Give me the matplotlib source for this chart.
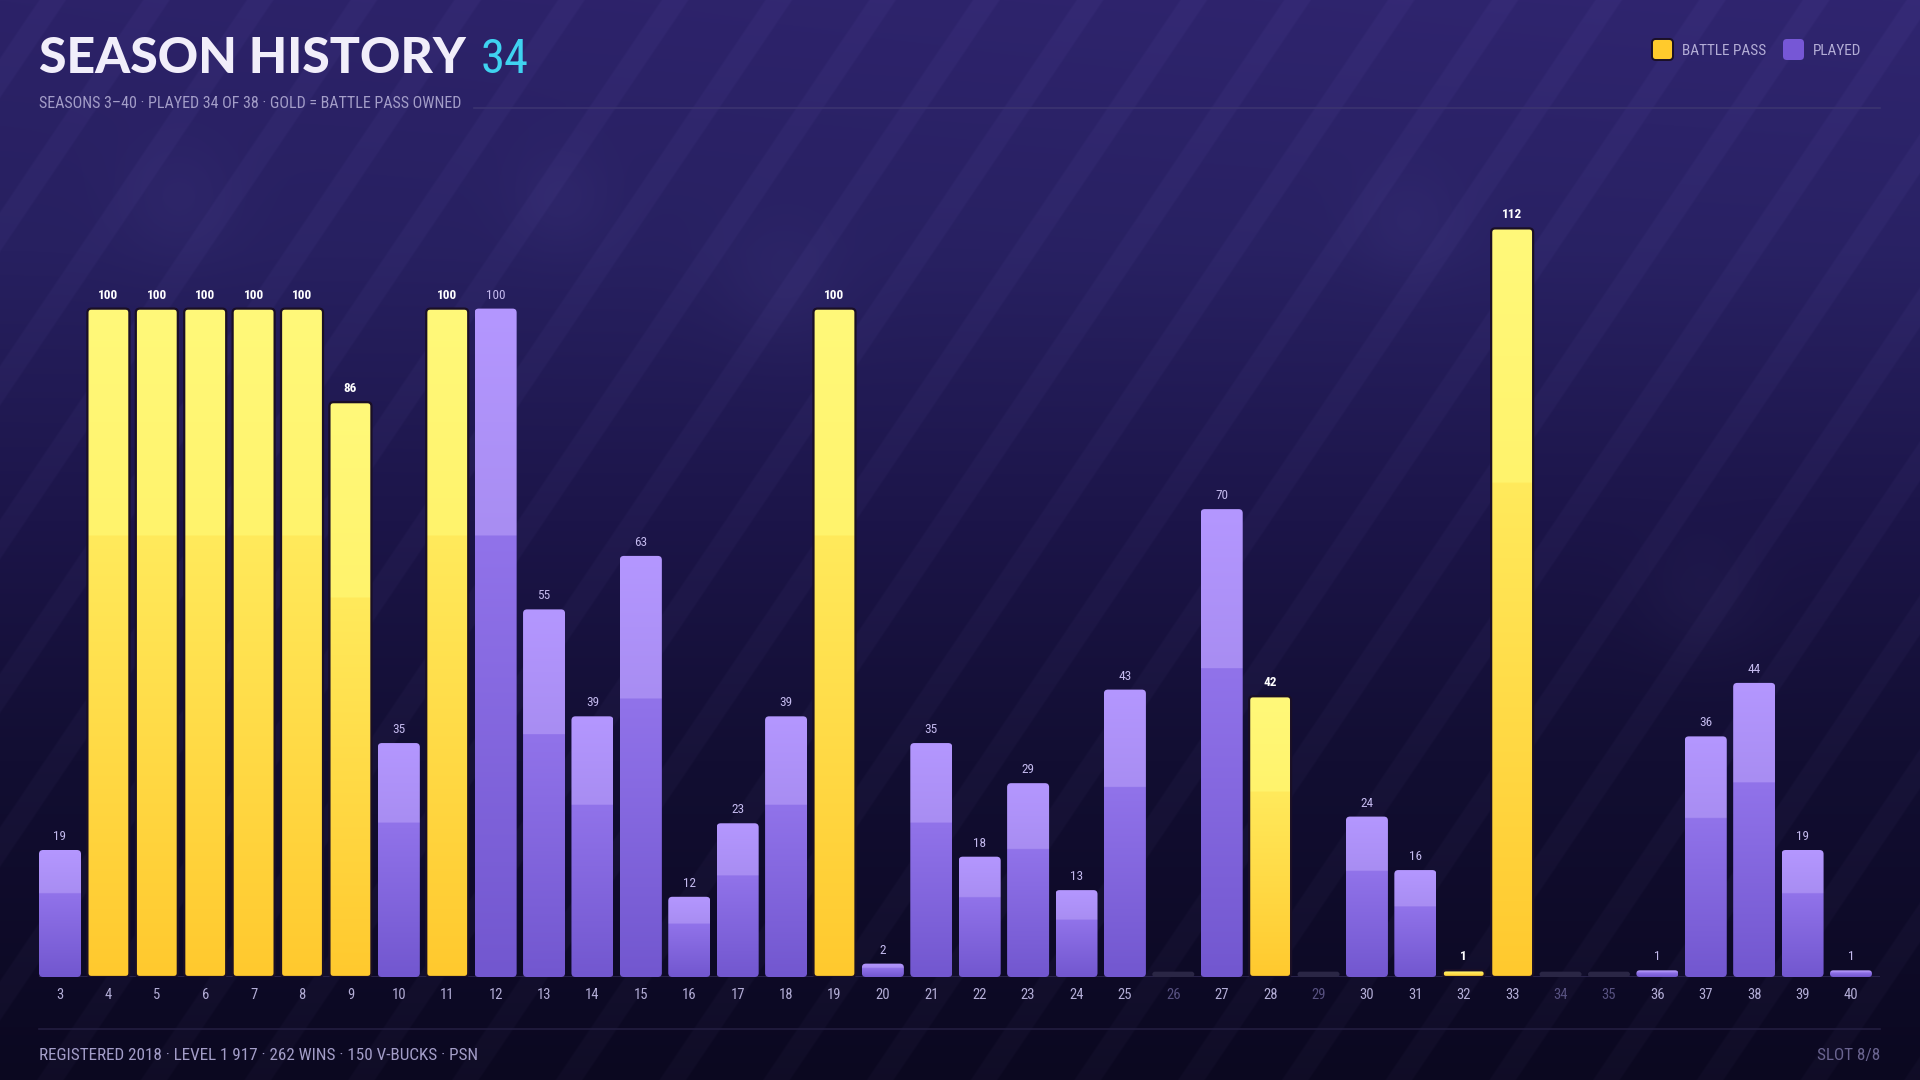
import numpy as np
import matplotlib
matplotlib.use("Agg")
import matplotlib.pyplot as plt
from matplotlib.patches import FancyBboxPatch
from matplotlib.colors import to_rgb
from matplotlib.lines import Line2D

# ---------------- data ----------------
seasons = list(range(3, 41))
levels = [19, 100, 100, 100, 100, 100, 86, 35, 100, 100, 55, 39, 63, 12, 23, 39,
          100, 2, 35, 18, 29, 13, 43, 0, 70, 42, 0, 24, 16, 1, 112, 0, 0, 1, 36, 44, 19, 1]
battle_pass_seasons = [4, 5, 6, 7, 8, 9, 11, 19, 28, 32, 33]
unplayed_seasons = [26, 29, 34, 35]
tick_labels = [str(s) for s in seasons]

title = "SEASON HISTORY"
title_count = "34"
subtitle = "SEASONS 3\u201340 \u00b7 PLAYED 34 OF 38 \u00b7 GOLD = BATTLE PASS OWNED"
footer_left = "REGISTERED 2018 \u00b7 LEVEL 1 917 \u00b7 262 WINS \u00b7 150 V-BUCKS \u00b7 PSN"
footer_right = "SLOT 8/8"
legend_labels = ["BATTLE PASS", "PLAYED"]

# ---------------- style ----------------
W, H = 1920, 1080
NARROW = ["Roboto Condensed", "DejaVu Sans"]
NARROW_KW = dict(family=NARROW, fontstretch="condensed")
HEAVY = ["Lato", "DejaVu Sans"]
TXT = "#B3ADD6"
DIM = "#575180"

fig = plt.figure(figsize=(19.2, 10.8), dpi=100)
fig.patch.set_facecolor("#150F38")

# ---------------- background ----------------
bg = fig.add_axes([0, 0, 1, 1], zorder=0)
yy, xx = np.mgrid[0:H, 0:W].astype(float)
stops_y = [0, 250, 520, 760, 1080]
stops_c = [to_rgb(c) for c in ["#2C2268", "#272060", "#1C1549", "#120E32", "#0B0820"]]
img = np.zeros((H, W, 3))
for k in range(3):
    col = np.interp(yy[:, 0], stops_y, [c[k] for c in stops_c])
    img[:, :, k] = col[:, None]
img += (np.clip(xx / W, 0, 1) * np.clip(1 - yy / 500, 0, 1))[:, :, None] * np.array([0.015, 0.012, 0.03])
# diagonal bands
th = np.deg2rad(56)
u = xx * np.sin(th) + yy * np.cos(th)
P = 86.0
BW = 22.0
dist = np.abs(np.mod(u, P) - P / 2)
s = np.clip((BW / 2 - dist) / 2.0 + 0.5, 0, 1)
img += (0.026 * s)[:, :, None] * np.array([0.8, 0.72, 1.0])
# soft bokeh blobs
for cx, cy, r in [(178, 202, 60), (784, 288, 65), (1408, 226, 55), (1702, 600, 60), (560, 200, 50)]:
    d2 = ((xx - cx) ** 2 + (yy - cy) ** 2) / r ** 2
    img += (0.025 * np.exp(-d2))[:, :, None] * np.array([0.8, 0.75, 1.0])
img = np.clip(img, 0, 1)
bg.imshow(img, extent=[0, W, H, 0], aspect="auto", interpolation="bilinear")
bg.set_xlim(0, W)
bg.set_ylim(H, 0)
bg.axis("off")

# ---------------- main axes ----------------
AX_L, AX_R, AX_B, AX_T = 39, 1880, 977, 150
px_per_x = 48.405
px_per_y = 6.684
ax = fig.add_axes([AX_L / W, 1 - AX_B / H, (AX_R - AX_L) / W, (AX_B - AX_T) / H], zorder=2)
ax.patch.set_alpha(0)
xmin = seasons[0] - 21 / px_per_x
xmax = xmin + (AX_R - AX_L) / px_per_x
ymax = (AX_B - AX_T) / px_per_y

BAR_W = 42 / px_per_x
STUB = 0.8
is_bp = [s in battle_pass_seasons for s in seasons]
is_played = [s not in unplayed_seasons for s in seasons]
draw_h = [lv if pl else STUB for lv, pl in zip(levels, is_played)]

bars = ax.bar(seasons, draw_h, width=BAR_W, color="none", edgecolor="none", zorder=1)

def grad(top, m1, m2, bot, n=400, split=0.34):
    t = np.linspace(0, 1, n)
    out = np.zeros((n, 1, 3))
    a, b, c, d = [np.array(to_rgb(x)) for x in (top, m1, m2, bot)]
    for i, tv in enumerate(t):
        if tv < split:
            f = tv / split
            out[i, 0] = a * (1 - f) + b * f
        else:
            f = (tv - split) / (1 - split)
            out[i, 0] = c * (1 - f) + d * f
    return out

G_GOLD = grad("#FFF97A", "#FFF36C", "#FFEA5C", "#FFC92E")
G_PURP = grad("#B497FF", "#A88DF2", "#9173EA", "#7257CF")

asp = px_per_x / px_per_y
R = 4 / px_per_x
for rect, bp, pl in zip(bars.patches, is_bp, is_played):
    x0 = rect.get_x()
    w = rect.get_width()
    h = rect.get_height()
    r = min(R, w / 2, h / asp / 2)
    if not pl:
        p = FancyBboxPatch((x0, 0), w, h, boxstyle=f"round,pad=0,rounding_size={r}",
                           mutation_aspect=asp, facecolor="#2A2645", edgecolor="none", zorder=3)
        ax.add_patch(p)
        continue
    p = FancyBboxPatch((x0, 0), w, h, boxstyle=f"round,pad=0,rounding_size={r}",
                       mutation_aspect=asp, facecolor="none", edgecolor="none", zorder=3)
    ax.add_patch(p)
    im = ax.imshow(G_GOLD if bp else G_PURP, extent=[x0, x0 + w, 0, h], aspect="auto",
                   origin="upper", interpolation="bilinear", zorder=3)
    im.set_clip_path(p)
    if bp:
        e = FancyBboxPatch((x0, 0), w, h, boxstyle=f"round,pad=0,rounding_size={r}",
                           mutation_aspect=asp, facecolor="none", edgecolor="#1A0F26",
                           linewidth=1.6, zorder=4)
        ax.add_patch(e)

# value labels
for sx, lv, bp, pl in zip(seasons, levels, is_bp, is_played):
    if not pl:
        continue
    ax.annotate(str(lv), (sx, lv), xytext=(0, 5), textcoords="offset points",
                ha="center", va="bottom", fontsize=9.5, **NARROW_KW,
                color="#FFFFFF" if bp else "#C4BAEE",
                fontweight="bold" if bp else "normal", zorder=5)

ax.axhline(0, color="#2E2852", lw=1.2, zorder=2)
ax.set_xlim(xmin, xmax)
ax.set_ylim(0, ymax)
ax.set_xticks(seasons)
ax.set_xticklabels(tick_labels, fontsize=10.5, **NARROW_KW)
for lab, pl in zip(ax.get_xticklabels(), is_played):
    lab.set_color(TXT if pl else DIM)
ax.tick_params(axis="x", length=0, pad=8)
ax.set_yticks([])
for sp in ax.spines.values():
    sp.set_visible(False)

# ---------------- header ----------------
fig.text(39 / W, 1 - 73 / H, title, fontsize=36, fontweight=900, family=HEAVY,
         color="#F1EEFA", va="baseline", ha="left", zorder=5)
fig.text(481 / W, 1 - 73 / H, title_count, fontsize=35, **NARROW_KW,
         color="#3FD3F0", va="baseline", ha="left", zorder=5)
fig.text(39 / W, 1 - 108 / H, subtitle, fontsize=11.5, **NARROW_KW,
         color="#A39DC8", va="baseline", ha="left", zorder=5)
fig.add_artist(Line2D([474 / W, 1880 / W], [1 - 108 / H, 1 - 108 / H],
                      color="#3B3470", lw=1.2, zorder=4))

# legend
leg_items = [(1652, "#FFCA2C", "#1A0F26", legend_labels[0]),
             (1783, "#7657D6", "none", legend_labels[1])]
for lx, fc, ec, lab in leg_items:
    sq = FancyBboxPatch((lx / W, 1 - 60 / H), 21 / W, 21 / H,
                        boxstyle="round,pad=0,rounding_size=0.002",
                        mutation_aspect=W / H, transform=fig.transFigure,
                        facecolor=fc, edgecolor=ec, linewidth=1.4, zorder=5)
    fig.add_artist(sq)
    fig.text((lx + 30) / W, 1 - 55 / H, lab, fontsize=11, **NARROW_KW,
             color=TXT, va="baseline", ha="left", zorder=5)

# ---------------- footer ----------------
fig.add_artist(Line2D([39 / W, 1880 / W], [1 - 1029 / H, 1 - 1029 / H],
                      color="#221D40", lw=1.2, zorder=4))
fig.text(39 / W, 1 - 1060 / H, footer_left, fontsize=12.3, **NARROW_KW,
         color="#A39DC8", va="baseline", ha="left", zorder=5)
fig.text(1880 / W, 1 - 1060 / H, footer_right, fontsize=12.3, **NARROW_KW,
         color="#6A6490", va="baseline", ha="right", zorder=5)

fig.savefig("out.png", dpi=100, facecolor=fig.get_facecolor())
